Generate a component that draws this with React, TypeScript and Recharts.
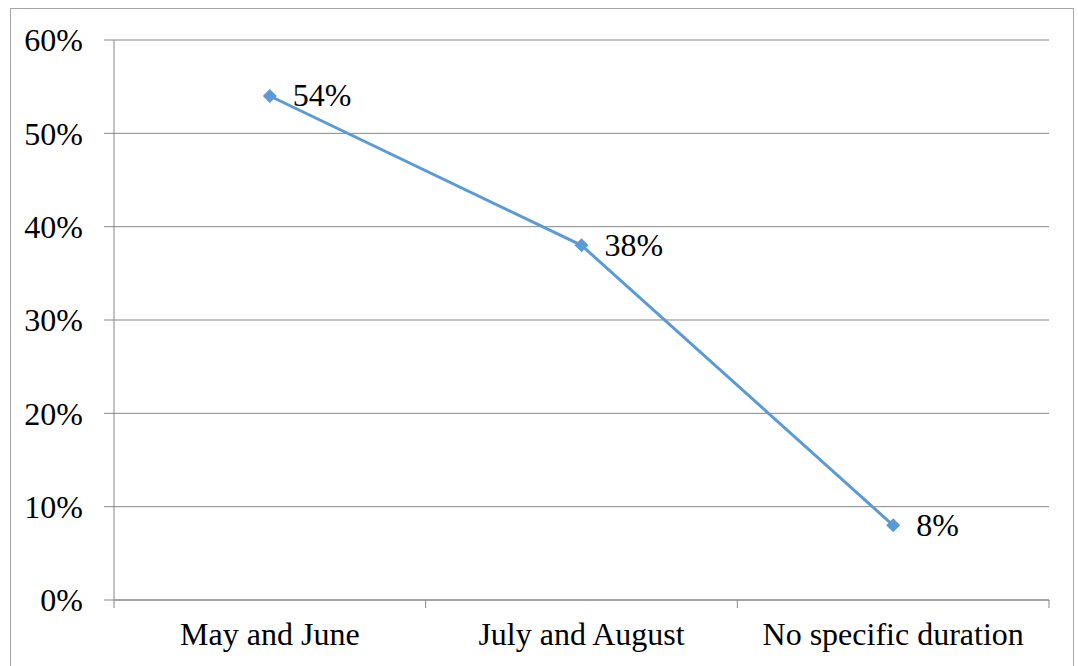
import React from 'react';
import { LineChart, Line, XAxis, YAxis, CartesianGrid, LabelList } from 'recharts';

const categories = ['May and June', 'July and August', 'No specific duration'];
const shares = [54, 38, 8];
const yTicks = [0, 10, 20, 30, 40, 50, 60];

const data = categories.map((name, i) => ({ name, value: shares[i] }));

const W = 1078;
const H = 666;
const LINE = '#5B9BD5';
const GRID = '#868686';
const FONT = 'Liberation Serif';
const FS = 32;
const X_TICK_SIZE = 8;
const X_TICK_MARGIN = 14;
const PLOT_LEFT = 114;
const PLOT_RIGHT = 1049;
const BAND = (PLOT_RIGHT - PLOT_LEFT) / categories.length;

const CategoryTick = (props: any) => {
  const { x, y, payload, index } = props;
  const axisY = y - X_TICK_SIZE - X_TICK_MARGIN;
  const left = x - BAND / 2;
  const right = x + BAND / 2;
  return (
    <g>
      <line x1={left} x2={left} y1={axisY} y2={axisY + X_TICK_SIZE} stroke={GRID} strokeWidth={1} />
      {index === categories.length - 1 && (
        <line x1={right} x2={right} y1={axisY} y2={axisY + X_TICK_SIZE} stroke={GRID} strokeWidth={1} />
      )}
      <text x={x} y={y} dy="0.71em" textAnchor="middle" fill="#000" fontSize={FS} fontFamily={FONT}>
        {payload.value}
      </text>
    </g>
  );
};

const Diamond = (props: any) => {
  const { cx, cy } = props;
  if (cx == null || cy == null) return null;
  const r = 7;
  return <path d={`M${cx},${cy - r}L${cx + r},${cy}L${cx},${cy + r}L${cx - r},${cy}Z`} fill={LINE} />;
};

const ValueLabel = (props: any) => {
  const { x, y, value } = props;
  return (
    <text x={x + 23} y={y} dy="0.32em" fill="#000" fontSize={FS} fontFamily={FONT}>
      {`${value}%`}
    </text>
  );
};

export default function App() {
  return (
    <div style={{ position: 'absolute', left: 0, top: 0, width: W, height: H, overflow: 'hidden', background: '#fff', fontFamily: FONT }}>
      <div
        style={{
          position: 'absolute',
          left: 10,
          top: 8,
          width: 1062,
          height: 700,
          borderTop: '1px solid #a6a6a6',
          borderLeft: '1px solid #a6a6a6',
          borderRight: '1px solid #a6a6a6',
        }}
      />
      <div style={{ position: 'absolute', left: 0, top: 0 }}>
        <LineChart width={W} height={H} data={data} margin={{ top: 40, right: W - PLOT_RIGHT, bottom: 0, left: 0 }}>
          <CartesianGrid horizontal vertical={false} stroke={GRID} strokeWidth={1} />
          <XAxis
            dataKey="name"
            height={66}
            padding={{ left: BAND / 2, right: BAND / 2 }}
            axisLine={{ stroke: GRID, strokeWidth: 1 }}
            tickLine={false}
            tickSize={X_TICK_SIZE}
            tickMargin={X_TICK_MARGIN}
            tick={<CategoryTick />}
            interval={0}
          />
          <YAxis
            width={PLOT_LEFT}
            domain={[0, 60]}
            ticks={yTicks}
            tickFormatter={(v: number) => `${v}%`}
            axisLine={{ stroke: GRID, strokeWidth: 1 }}
            tickLine={{ stroke: GRID, strokeWidth: 1 }}
            tickSize={10}
            tickMargin={21}
            tick={{ fill: '#000', fontSize: FS, fontFamily: FONT }}
          />
          <Line
            type="linear"
            dataKey="value"
            stroke={LINE}
            strokeWidth={3}
            dot={<Diamond />}
            activeDot={false}
            isAnimationActive={false}
          >
            <LabelList dataKey="value" content={<ValueLabel />} />
          </Line>
        </LineChart>
      </div>
    </div>
  );
}
